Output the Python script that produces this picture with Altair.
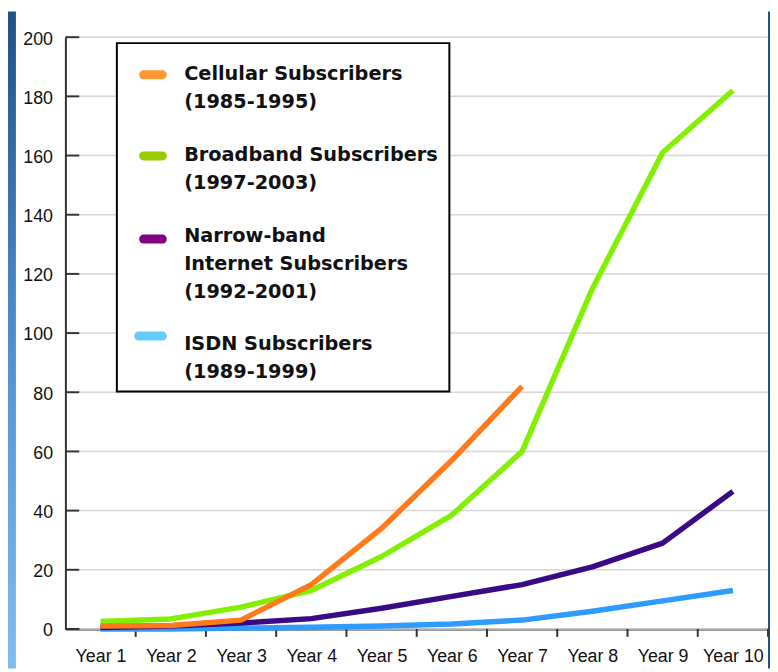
import altair as alt
import pandas as pd

years = ["Year 1", "Year 2", "Year 3", "Year 4", "Year 5",
         "Year 6", "Year 7", "Year 8", "Year 9", "Year 10"]
series_names = ["ISDN Subscribers", "Narrow-band Internet Subscribers",
                "Broadband Subscribers", "Cellular Subscribers"]
isdn = [0, 0, 0.3, 0.6, 1, 1.7, 3, 6, 9.5, 13]
narrowband = [0.5, 1, 2, 3.5, 7, 11, 15, 21, 29, 46.5]
broadband = [2.5, 3.4, 7.4, 13, 24.5, 38.5, 60, 115, 161, 182]
cellular = [1, 1.2, 3, 15, 34, 57, 82, None, None, None]
series_values = [isdn, narrowband, broadband, cellular]
line_colors = ["#2e9bff", "#3a0a85", "#82f000", "#ff7a1a"]

legend_labels = [
    ["Cellular Subscribers", "(1985-1995)"],
    ["Broadband Subscribers", "(1997-2003)"],
    ["Narrow-band", "Internet Subscribers", "(1992-2001)"],
    ["ISDN Subscribers", "(1989-1999)"],
]
legend_colors = ["#ff9933", "#99cc00", "#800080", "#66ccff"]
y_ticks = list(range(0, 201, 20))

W, H = 710, 598

rows = []
for name, vals in zip(series_names, series_values):
    for i, v in enumerate(vals):
        if v is not None:
            rows.append({"series": name, "idx": i + 1, "year": years[i], "value": v})
df = pd.DataFrame(rows)

xscale = alt.Scale(domain=[0.5, len(years) + 0.5], nice=False, zero=False)
yscale = alt.Scale(domain=[0, 200], nice=False)

one = pd.DataFrame({"a": [0]})
ticks_df = pd.DataFrame({"v": y_ticks})
bounds_df = pd.DataFrame({"b": [i + 0.5 for i in range(1, len(years) + 1)]})

FONT_AX = "Liberation Sans"

grad = alt.LinearGradient(
    gradient="linear",
    stops=[alt.GradientStop(color="#1f5185", offset=0),
           alt.GradientStop(color="#4f8fcf", offset=0.5),
           alt.GradientStop(color="#80bdf0", offset=1)],
    x1=0, x2=0, y1=0, y2=1,
)

left_strip = alt.Chart(one).mark_rect(color=grad).encode(
    x=alt.value(-58), x2=alt.value(-50), y=alt.value(-26), y2=alt.value(H + 40))
right_strip = alt.Chart(one).mark_rect(color="#1f5185").encode(
    x=alt.value(W), x2=alt.value(W + 2), y=alt.value(-26), y2=alt.value(H + 40))

axes_base = alt.Chart(ticks_df).mark_rule(strokeWidth=1.5, color="#d6d6d6").encode(
    y=alt.Y("v:Q", scale=yscale,
            axis=alt.Axis(values=y_ticks, title=None, grid=False, ticks=False,
                          domain=True, domainColor="#333333", domainWidth=2,
                          labelFont=FONT_AX, labelFontSize=18, labelColor="#111111",
                          labelPadding=13, labelOffset=2)),
    x=alt.value(14), x2=alt.value(W),
)

y_tick_marks = alt.Chart(ticks_df).mark_rule(strokeWidth=2, color="#333333").encode(
    y=alt.Y("v:Q", scale=yscale), x=alt.value(0), x2=alt.value(14))

x_tick_marks = alt.Chart(bounds_df).mark_rule(strokeWidth=2, color="#333333").encode(
    x=alt.X("b:Q", scale=xscale,
            axis=alt.Axis(values=list(range(1, len(years) + 1)), title=None, grid=False,
                          ticks=False, domain=True, domainColor="#333333", domainWidth=2,
                          labelFont=FONT_AX, labelFontSize=18, labelColor="#111111",
                          labelPadding=19,
                          labelExpr="'Year ' + datum.value")),
    y=alt.value(H), y2=alt.value(H + 8))

lines = []
for name, col in zip(series_names, line_colors):
    lines.append(
        alt.Chart(df).transform_filter(alt.datum.series == name)
        .mark_line(strokeWidth=5.5, color=col, strokeJoin="round")
        .encode(x=alt.X("idx:Q", scale=xscale), y=alt.Y("value:Q", scale=yscale))
    )

legend_box = alt.Chart(one).mark_rect(fill="white", stroke="black", strokeWidth=2).encode(
    x=alt.value(52), x2=alt.value(388), y=alt.value(6), y2=alt.value(358))

legend_layers = [legend_box]
swatch_y = [38, 120, 204, 302]
swatch_x = [(79, 98), (79, 98), (79, 98), (74, 98)]
text_y = [28, 110, 192, 301]
for lab, col, sy, (sx1, sx2), ty in zip(legend_labels, legend_colors, swatch_y, swatch_x, text_y):
    legend_layers.append(
        alt.Chart(one).mark_rule(strokeWidth=9, strokeCap="round", color=col).encode(
            x=alt.value(sx1), x2=alt.value(sx2), y=alt.value(sy)))
    legend_layers.append(
        alt.Chart(one).mark_text(align="left", baseline="top", font="DejaVu Sans",
                                 fontWeight="bold", fontSize=19.5, lineHeight=28.5,
                                 color="#111111").encode(
            x=alt.value(120), y=alt.value(ty), text=alt.value(lab)))

chart = alt.layer(
    left_strip, right_strip, axes_base, y_tick_marks, x_tick_marks,
    *lines, *legend_layers
).properties(
    width=W, height=H,
    autosize=alt.AutoSizeParams(type="none"),
    padding={"left": 58, "top": 26, "right": 2, "bottom": 40},
).configure(background="white").configure_view(stroke=None)

chart.save("out.html", embed_options={"renderer": "svg", "actions": False})
